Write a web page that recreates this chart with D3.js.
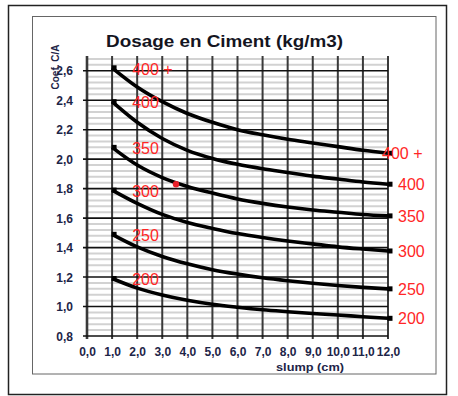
<!DOCTYPE html>
<html>
<head>
<meta charset="utf-8">
<script src="https://cdn.jsdelivr.net/npm/d3@7"></script>
<style>
  html, body { margin: 0; padding: 0; background: #fff; }
  svg { display: block; }
  text { font-family: "Liberation Sans", Arial, sans-serif; }
</style>
</head>
<body>
<svg id="chart" width="458" height="396"></svg>
<script>
// Slump (cm) at which each curve is read
const slump = [1, 2, 3, 4, 5, 6, 7, 8, 9, 10, 11, 12];

// Coefficient C/A for each cement dosage (kg/m3)
const coef400plus = [2.62, 2.49, 2.39, 2.31, 2.25, 2.20, 2.165, 2.135, 2.11, 2.085, 2.06, 2.04];
const coef400     = [2.39, 2.25, 2.14, 2.06, 2.005, 1.965, 1.935, 1.91, 1.885, 1.865, 1.845, 1.83];
const coef350     = [2.08, 1.96, 1.875, 1.815, 1.77, 1.73, 1.70, 1.675, 1.655, 1.64, 1.625, 1.615];
const coef300     = [1.79, 1.70, 1.625, 1.57, 1.53, 1.495, 1.468, 1.445, 1.425, 1.405, 1.39, 1.377];
const coef250     = [1.49, 1.405, 1.34, 1.29, 1.25, 1.22, 1.195, 1.175, 1.158, 1.143, 1.13, 1.12];
const coef200     = [1.19, 1.125, 1.078, 1.042, 1.015, 0.995, 0.978, 0.965, 0.953, 0.942, 0.931, 0.92];

const dosageLabels = ["400 +", "400", "350", "300", "250", "200"];
const seriesValues = [coef400plus, coef400, coef350, coef300, coef250, coef200];

// Highlighted reading on the 350 curve
const markSlump = [3.55];
const markCoef = [1.83];

// Axis ticks
const xTicks = [0, 1, 2, 3, 4, 5, 6, 7, 8, 9, 10, 11, 12];
const yTicks = [0.8, 1.0, 1.2, 1.4, 1.6, 1.8, 2.0, 2.2, 2.4, 2.6];
const yMinorStep = 0.04;

const title = "Dosage en Ciment (kg/m3)";
const xTitle = "slump (cm)";
const yTitle = "Coef. C/A";

const fmt = v => v.toFixed(1).replace(".", ",");

const svg = d3.select("#chart");

// Frames
svg.append("rect")
  .attr("x", 8.5).attr("y", 5.5).attr("width", 438).attr("height", 389)
  .attr("fill", "none").attr("stroke", "#222").attr("stroke-width", 1.5);
svg.append("rect")
  .attr("x", 32.5).attr("y", 16.5).attr("width", 403.5).attr("height", 357.5)
  .attr("fill", "none").attr("stroke", "#666").attr("stroke-width", 1);

const plot = { left: 87, right: 388, top: 56, bottom: 336 };

const x = d3.scaleLinear().domain([0, 12]).range([plot.left, plot.right]);
const y = d3.scaleLinear().domain([0.8, 2.7]).range([plot.bottom, plot.top]);

const g = svg.append("g");

// Minor horizontal grid
const minor = d3.range(0.8, 2.7 + 1e-9, yMinorStep)
  .filter(v => Math.abs(v * 5 - Math.round(v * 5)) > 1e-6);
g.append("g").selectAll("line").data(minor).join("line")
  .attr("x1", plot.left).attr("x2", plot.right)
  .attr("y1", d => y(d)).attr("y2", d => y(d))
  .attr("stroke", "#d2d2d2").attr("stroke-width", 2);

// Vertical grid
g.append("g").selectAll("line").data(xTicks).join("line")
  .attr("x1", d => x(d)).attr("x2", d => x(d))
  .attr("y1", plot.top).attr("y2", plot.bottom + 3)
  .attr("stroke", "#3a3a3a").attr("stroke-width", d => d === 0 ? 2.6 : 2);

// Major horizontal grid with small outside ticks
g.append("g").selectAll("line").data(yTicks).join("line")
  .attr("x1", plot.left - 4).attr("x2", plot.right)
  .attr("y1", d => y(d)).attr("y2", d => y(d))
  .attr("stroke", "#111").attr("stroke-width", 1.6);

// Tick labels via d3 axes (axis lines hidden, labels styled)
const yAxis = g.append("g")
  .attr("transform", `translate(${plot.left - 11},0)`)
  .call(d3.axisLeft(y).tickValues(yTicks).tickFormat(fmt).tickSize(0));
yAxis.select(".domain").remove();

const xAxis = g.append("g")
  .attr("transform", `translate(0,${plot.bottom + 8})`)
  .call(d3.axisBottom(x).tickValues(xTicks).tickFormat(fmt).tickSize(0));
xAxis.select(".domain").remove();

[yAxis, xAxis].forEach(a => a.selectAll("text")
  .attr("font-family", "'Liberation Sans', Arial, sans-serif")
  .attr("font-size", 12).attr("font-weight", "bold")
  .attr("fill", "#1d2548"));
yAxis.selectAll("text").attr("dy", "0.35em");

// Curves
const line = d3.line()
  .x((d, i) => x(slump[i]))
  .y(d => y(d))
  .curve(d3.curveMonotoneX);

seriesValues.forEach((vals) => {
  g.append("path")
    .attr("d", line(vals))
    .attr("fill", "none").attr("stroke", "#000")
    .attr("stroke-width", 3.6).attr("stroke-linecap", "butt");
  // end markers
  [0, vals.length - 1].forEach(i => {
    g.append("rect")
      .attr("x", x(slump[i]) - 0.5).attr("y", y(vals[i]) - 2.5)
      .attr("width", 5).attr("height", 5).attr("fill", "#000");
  });
});

const red = "#ff2626";

// Labels near the start of each curve
seriesValues.forEach((vals, k) => {
  g.append("text")
    .attr("x", x(1.8)).attr("y", y(vals[0]) + 1)
    .attr("dy", "0.36em")
    .attr("font-size", 16).attr("fill", red)
    .text(dosageLabels[k]);
});

// Labels at the end of each curve
seriesValues.forEach((vals, k) => {
  const last = vals.length - 1;
  g.append("text")
    .attr("x", x(slump[last]) + (k === 0 ? -6 : 10))
    .attr("y", y(vals[last]))
    .attr("dy", "0.36em")
    .attr("font-size", 16).attr("fill", red)
    .text(dosageLabels[k]);
});

// Highlighted point
g.selectAll("circle.mark").data(markSlump).join("circle")
  .attr("class", "mark")
  .attr("cx", d => x(d)).attr("cy", (d, i) => y(markCoef[i]))
  .attr("r", 3.2).attr("fill", "#e8202a");

// Titles
svg.append("text")
  .attr("x", 106).attr("y", 47)
  .attr("font-size", 16).attr("font-weight", "bold").attr("fill", "#15151f")
  .attr("textLength", 237).attr("lengthAdjust", "spacingAndGlyphs")
  .text(title);

svg.append("text")
  .attr("x", 310).attr("y", 371)
  .attr("text-anchor", "middle")
  .attr("font-size", 11).attr("font-weight", "bold").attr("fill", "#1d2548")
  .attr("textLength", 68).attr("lengthAdjust", "spacingAndGlyphs")
  .text(xTitle);

svg.append("text")
  .attr("transform", "translate(59,67) rotate(-90)")
  .attr("text-anchor", "middle")
  .attr("font-size", 10).attr("font-weight", "bold").attr("fill", "#1d2548")
  .text(yTitle);
</script>
</body>
</html>
